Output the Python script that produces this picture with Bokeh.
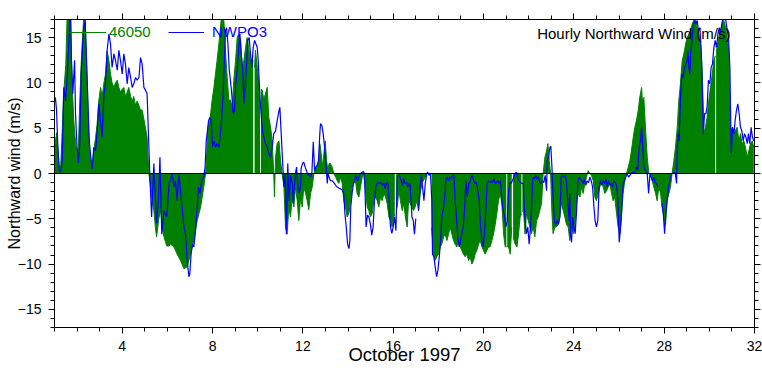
import math
from bokeh.plotting import figure
from bokeh.models import (Range1d, LinearAxis, FixedTicker, Span, Label,
                          Legend, LegendItem)
from bokeh.embed import file_html
from bokeh.resources import INLINE

NAN = float("nan")

# ---------------- data ----------------
# Buoy 46050: hourly northward wind (m/s), time in days of October 1997
days_46050 = [
    1.00, 1.10, 1.20, 1.27, 1.34, 1.41, 1.50, 1.56, 1.64, 1.71, 1.78, 1.85, 1.93, 2.00,
    2.06, 2.12, 2.18, 2.24, 2.30, 2.36, 2.42, 2.48, 2.54, 2.60, 2.67, 2.74, 2.82, 2.89,
    2.96, 3.04, 3.11, 3.19, 3.26, 3.33, 3.41, 3.48, 3.55, 3.63, 3.70, 3.78, 3.85, 3.92,
    4.00, 4.07, 4.14, 4.22, 4.29, 4.37, 4.44, 4.51, 4.59, 4.66, 4.74, 4.81, 4.88, 4.96,
    5.03, 5.10, 5.18, 5.30, 5.40, 5.47, 5.52, 5.62, 5.70, 5.77, 5.85, 5.97, 6.07, 6.14,
    6.29, 6.43, 6.58, 6.73, 6.88, 7.02, 7.17, 7.32, 7.47, 7.61, 7.69, 7.73, 7.79, 7.88,
    7.98, 8.06, 8.13, 8.20, 8.28, 8.35, 8.43, 8.50, 8.57, 8.65, 8.72, 8.79, 8.87, 8.94,
    9.02, 9.09, 9.16, 9.24, 9.31, 9.39, 9.46, 9.53, 9.61, 9.68, 9.80, 9.83, 9.86, 9.90,
    9.98, 10.05, 10.10, 10.12, 10.14, 10.20, 10.27, 10.34, 10.42, 10.49, 10.57, 10.64,
    10.71, 10.74, 10.79, 10.86, 10.94, 11.01, 11.08, 11.16, 11.23, 11.30, 11.38,
    11.45, 11.53, 11.60, 11.67, 11.75, 11.82, 11.90, 11.97, 12.04, 12.12, 12.19, 12.26,
    12.34, 12.41, 12.49, 12.56, 12.63, 12.71, 12.75, 12.81, 12.87, 12.93, 12.99, 13.05,
    13.11, 13.16, 13.22, 13.30, 13.37, 13.45, 13.52, 13.59, 13.67, 13.74, 13.81, 13.89,
    13.96, 14.04, 14.11, 14.18, 14.26, 14.33, 14.40, 14.48, 14.55, 14.63, 14.70, 14.77,
    14.85, 14.92, 14.99, 15.07, 15.14, 15.22, 15.29, 15.36, 15.44, 15.51, 15.59, 15.66,
    15.73, 15.81, 15.88, 15.95, 16.03, 16.07, 16.10, 16.13, 16.18, 16.25, 16.32, 16.40,
    16.47, 16.54, 16.62,
    16.68, 16.75, 16.83, 16.90, 16.97, 17.05, 17.12, 17.20, 17.27, 17.34, 17.42, 17.49,
    17.56, 17.66, 17.68, 17.70, 17.79, 17.86, 17.93, 18.01, 18.08, 18.15, 18.23, 18.30,
    18.38, 18.45, 18.52, 18.60, 18.67, 18.74, 18.82, 18.89, 18.97, 19.04, 19.11, 19.19,
    19.26, 19.34, 19.41, 19.48, 19.56, 19.63, 19.70, 19.78, 19.85, 19.93, 20.00, 20.07,
    20.15, 20.22, 20.29, 20.37, 20.44, 20.52, 20.59, 20.66, 20.74, 20.81, 20.89, 20.96,
    21.01, 21.03, 21.05, 21.11, 21.18, 21.25, 21.28, 21.31, 21.40, 21.48, 21.55, 21.62,
    21.68, 21.70, 21.72, 21.77, 21.84,
    21.90, 21.98, 22.05, 22.12, 22.20, 22.27, 22.35, 22.42, 22.49, 22.57, 22.64, 22.67,
    22.72, 22.79, 22.85, 22.91, 22.97, 23.03, 23.08, 23.16, 23.23, 23.31, 23.38, 23.45,
    23.53, 23.60, 23.67, 23.75, 23.82, 23.90, 23.97, 24.04, 24.12, 24.19, 24.27, 24.34,
    24.41, 24.49, 24.56, 24.63, 24.71, 24.78, 24.86, 24.93, 25.00, 25.08, 25.15, 25.22,
    25.30, 25.37, 25.45, 25.52, 25.59, 25.67, 25.74, 25.81, 25.89, 25.96, 26.04, 26.11,
    26.18, 26.26, 26.33, 26.41, 26.48, 26.55, 26.63, 26.70, 26.77, 26.85, 26.92, 27.00,
    27.03, 27.10, 27.17, 27.25, 27.32, 27.40, 27.47, 27.54, 27.62, 27.69, 27.76, 27.84,
    27.91, 27.99, 28.06, 28.13, 28.21, 28.28, 28.35, 28.43, 28.50, 28.58, 28.65, 28.72,
    28.80, 28.87, 28.95, 29.02, 29.09, 29.17, 29.24, 29.31, 29.39, 29.46, 29.54, 29.61,
    29.68, 29.76, 29.83, 29.90, 29.98, 30.05, 30.13, 30.20, 30.26, 30.28, 30.30, 30.35,
    30.42, 30.49, 30.57, 30.64, 30.72, 30.79, 30.86, 30.94, 31.01, 31.09, 31.16, 31.23,
    31.31, 31.38, 31.45, 31.53, 31.60, 31.68, 31.75, 31.82, 31.90, 31.97,
]
north_46050 = [
    3.0, 4.5, 1.0, 0.5, 4.5, 9.0, 12.0, 17.5, 18.5, 17.0, 10.0, 6.0, 3.5, 2.0,
    3.0, 8.0, 12.0, 15.0, 17.5, 17.0, 12.0, 7.0, 3.0, 1.5, 1.0, 2.5, 4.0, 5.5,
    8.0, 9.5, 8.5, 10.0, 11.0, 13.5, 12.5, 11.0, 10.0, 9.5, 10.0, 10.3, 9.5, 9.0,
    9.3, 9.5, 8.5, 9.0, 9.5, 8.5, 8.0, 8.5, 7.5, 8.0, 7.5, 7.0, 7.0, 6.0,
    5.0, 4.0, 0.0, -2.5, -4.1, -6.0, -7.0, -5.0, -4.0, -6.0, -7.0, -8.0, -8.0, -7.8,
    -8.1, -8.9, -9.6, -10.5, -10.3, -8.9, -7.4, -5.2, -3.7, -1.5, 0.0, 1.4, 5.1, 5.8,
    8.1, 9.5, 11.0, 12.5, 14.3, 16.1, 18.3, 16.9, 13.6, 10.6, 8.1, 8.1, 7.3, 10.3,
    12.5, 15.0, 15.4, 14.7, 11.7, 12.5, 13.9, 15.0, 13.6, 12.5, 12.5, NAN, 11.7, 13.6,
    11.7, 9.9, 9.6, NAN, 9.3, 9.2, 8.1, 8.8, 9.5, 6.2, 5.1, 3.6,
    0.0, -2.6, 1.8, 3.3, 3.6, 1.4, 0.0, -1.5, -5.9, -6.7, -3.7,
    -4.8, -2.6, -3.7, -1.5, -3.0, -5.2, -2.6, -3.7, -1.5, -2.2, -3.0, -4.0,
    -2.2, -1.5, 0.0, 0.7, 0.7, 1.4, 3.3, 2.2, 0.7, 2.2, 3.6, 1.4,
    0.3, 1.1, 1.1, 0.7, 0.0, -0.4, -0.8, -1.1, -0.4, -1.1, -3.0, -3.7,
    -4.8, -4.4, -3.0, -1.5, -1.1, -0.8, -2.2, -2.6, -1.5, -0.4, 0.0, -1.8,
    -3.7, -4.1, -4.8, -4.4, -3.0, -2.6, -3.0, -3.7, -2.6, -3.0, -2.2, -2.6,
    -3.3, -4.8, -5.2, -5.9, -4.8, -4.5, NAN, -4.0, -3.7, -1.8, -3.0, -4.1,
    -3.3, -4.8, -5.9,
    -3.0, -3.3, -3.7, -4.1, -3.7, -3.0, -4.1, -2.2, -1.1, -0.8, -0.4, 0.0,
    0.0, -0.1, NAN, -6.0, -8.9, -9.6, -9.2, -8.9, -8.1, -7.8, -7.0, -6.7,
    -7.4, -6.7, -5.9, -6.7, -7.4, -7.8, -8.1, -7.4, -8.1, -8.5, -8.9, -9.2,
    -8.9, -9.6, -9.2, -10.0, -9.6, -8.9, -8.5, -7.8, -7.4, -8.1, -8.5, -8.9,
    -8.5, -8.1, -8.1, -7.4, -6.7, -5.6, -4.4, -3.0, -2.2, -3.3, -6.7, -8.1,
    -8.1, NAN, -8.1, -8.1, -8.9, -5.9, NAN, -7.0, -7.8, -8.1, -6.7, -4.8,
    -4.5, NAN, -4.2, -4.1, -6.7,
    -4.4, -5.2, -5.9, -6.65, -5.9, -7.0, -5.2, -4.8, -4.1, -3.3, 0.0, 0.7,
    1.8, 2.5, 3.3, 1.4, 0.0, -4.4, -6.65, -5.9, -5.9, -5.6, -4.8, -3.3,
    -4.1, -4.8, -5.6, -5.9, -7.4, -5.9, -6.65, -5.9, -3.3, -2.2, -2.6, -1.5,
    -2.2, -1.1, -0.4, 0.3, 0.0, -0.2, -0.8, -2.6, -3.0, -2.2, -1.5, -0.8,
    -1.5, -2.2, -1.9, -1.5, -1.1, -2.2, -3.0, -2.6, -4.4, -5.9, -6.65, -4.8,
    -2.2, -0.7, 0.0, 0.7, 1.4, 2.5, 4.0, 5.1, 5.8, 6.95, 8.4, 9.5,
    8.1, 8.4, 5.1, 1.8, 0.0, 0.0, -0.8, -1.5, -2.2, -3.0, -1.5, -2.2,
    -3.7, -4.8, -5.6, -3.0, -2.2, -1.5, 0.0, 1.4, 2.9, 5.1, 8.1, 9.9,
    12.5, 13.2, 14.3, 15.0, 15.4, 15.8, 16.5, 16.9, 16.9, 16.1, 15.4, 14.3,
    11.7, 4.4, 5.1, 6.2, 8.1, 9.5, 11.0, 12.5, 13.0, NAN, 13.5, 13.9,
    15.0, 15.8, 16.5, 16.9, 16.1, 15.0, 13.6, 4.4, 5.1, 4.4, 4.8, 5.1,
    3.6, 4.4, 3.3, 3.6, 2.9, 1.8, 2.5, 3.3, 3.6, 2.9,
]

# Station NWPO3: hourly northward wind (m/s)
days_nwpo3 = [
    1.00, 1.04, 1.09, 1.15, 1.21, 1.27, 1.34, 1.41, 1.49, 1.56, 1.64, 1.71, 1.75, 1.81,
    1.89, 1.93, 2.00, 2.06, 2.12, 2.18, 2.24, 2.30, 2.36, 2.42, 2.48, 2.54, 2.59, 2.67,
    2.74, 2.82, 2.89, 2.96, 3.04, 3.11, 3.19, 3.26, 3.33, 3.41, 3.48, 3.55, 3.63, 3.70,
    3.78, 3.85, 3.92, 4.00, 4.07, 4.14, 4.22, 4.29, 4.37, 4.44, 4.51, 4.59, 4.66, 4.74,
    4.81, 4.88, 4.96, 5.03, 5.10, 5.16, 5.22, 5.30, 5.40, 5.52, 5.60, 5.67, 5.75, 5.85,
    5.97, 6.08, 6.14, 6.21, 6.29, 6.36, 6.43, 6.51, 6.58, 6.65, 6.73, 6.80, 6.88, 6.95,
    6.99, 7.05, 7.11, 7.17, 7.23, 7.29, 7.32, 7.38, 7.44, 7.50, 7.55, 7.61, 7.67, 7.72,
    7.76, 7.82, 7.88, 7.94, 8.00, 8.06, 8.13, 8.20, 8.28, 8.35, 8.41, 8.47, 8.53, 8.57,
    8.62, 8.68, 8.74, 8.79, 8.85, 8.91, 8.97, 9.03, 9.09, 9.15, 9.21, 9.27, 9.33, 9.39,
    9.44, 9.50, 9.56, 9.62, 9.68, 9.74, 9.80, 9.86, 9.92, 9.98, 10.03, 10.09, 10.15,
    10.21, 10.27, 10.34, 10.42, 10.49, 10.57, 10.64, 10.71, 10.79, 10.86, 10.94, 10.98,
    11.04, 11.10, 11.16, 11.22, 11.27, 11.33, 11.39,
    11.45, 11.53, 11.57, 11.63, 11.69, 11.72, 11.78, 11.84, 11.90, 11.92, 11.98, 12.04,
    12.10, 12.16, 12.22, 12.28, 12.34, 12.40, 12.46, 12.52, 12.57, 12.63, 12.69, 12.75,
    12.78, 12.84, 12.90, 12.96, 13.02, 13.08, 13.11, 13.16, 13.22, 13.30, 13.37, 13.45,
    13.52, 13.59, 13.67, 13.74, 13.81, 13.86, 13.92, 13.98, 14.04, 14.08, 14.12, 14.18,
    14.24, 14.30, 14.36, 14.42, 14.48, 14.55, 14.63, 14.70, 14.74, 14.80, 14.86, 14.92,
    14.99, 15.05, 15.11, 15.17, 15.23, 15.29, 15.35, 15.41, 15.47, 15.53, 15.59, 15.64,
    15.70, 15.76, 15.82, 15.88, 15.94, 16.00, 16.06, 16.12, 16.18, 16.23, 16.29, 16.35,
    16.41, 16.47, 16.53, 16.59, 16.65,
    16.71, 16.75, 16.83, 16.89, 16.94, 17.00, 17.06, 17.12, 17.20, 17.24, 17.30, 17.36,
    17.42, 17.49, 17.53, 17.59, 17.65, 17.71, 17.74, 17.80, 17.86, 17.92, 17.98, 18.04,
    18.10, 18.15, 18.21, 18.27, 18.33, 18.39, 18.45, 18.51, 18.57, 18.63, 18.69, 18.74,
    18.80, 18.86, 18.92, 18.98, 19.04, 19.10, 19.16, 19.22, 19.28, 19.34, 19.39, 19.45,
    19.51, 19.57, 19.63, 19.69, 19.75, 19.81, 19.87, 19.93, 19.98, 20.04, 20.10, 20.16,
    20.22, 20.28, 20.34, 20.40, 20.46, 20.52, 20.58, 20.63, 20.69, 20.75, 20.81, 20.87,
    20.93, 20.99, 21.05, 21.11, 21.17, 21.22, 21.28, 21.34, 21.40, 21.46, 21.52, 21.58,
    21.64, 21.70, 21.76, 21.81, 21.87,
    21.90, 21.96, 22.02, 22.08, 22.14, 22.17, 22.20, 22.26, 22.32, 22.38, 22.43, 22.49,
    22.55, 22.61, 22.67, 22.73, 22.79, 22.82, 22.88, 22.94, 22.98, 23.03, 23.08, 23.14,
    23.20, 23.26, 23.32, 23.38, 23.44, 23.50, 23.56, 23.62, 23.67, 23.73, 23.79, 23.82,
    23.85, 23.90, 23.94, 24.00, 24.06, 24.12, 24.18, 24.24, 24.29, 24.35, 24.41, 24.47,
    24.53, 24.59, 24.65, 24.71, 24.77, 24.83, 24.89, 24.94, 25.00, 25.06, 25.12, 25.18,
    25.24, 25.30, 25.36, 25.42, 25.48, 25.53, 25.59, 25.65, 25.71, 25.77, 25.83, 25.89,
    25.95, 26.01, 26.07, 26.12, 26.18, 26.24, 26.30, 26.36, 26.42, 26.48, 26.54, 26.60,
    26.66, 26.72, 26.77, 26.83, 26.89, 26.95, 27.00,
    27.10, 27.17, 27.25, 27.31, 27.37, 27.42, 27.48, 27.54, 27.60, 27.66, 27.72, 27.81,
    27.90, 27.96, 28.02, 28.07, 28.13, 28.19, 28.25, 28.31, 28.37, 28.43, 28.49, 28.55,
    28.58, 28.62, 28.66, 28.72, 28.78, 28.84, 28.90, 28.96, 29.02, 29.05, 29.09, 29.14,
    29.17, 29.23, 29.28, 29.34, 29.40, 29.46, 29.52, 29.58, 29.64, 29.70, 29.73, 29.79,
    29.85, 29.90, 29.96, 30.02, 30.08, 30.14, 30.20, 30.26, 30.32, 30.38, 30.44, 30.49,
    30.55, 30.61, 30.67, 30.73, 30.79, 30.85, 30.91, 30.97, 31.03, 31.09, 31.14, 31.20,
    31.26, 31.32, 31.38, 31.44, 31.50, 31.56, 31.62, 31.68, 31.73, 31.79, 31.85, 31.91,
    31.97,
]
north_nwpo3 = [
    8.0, 8.4, 7.0, 2.9, 0.3, 0.2, 1.4, 9.5, 8.0, 10.6, 14.7, 18.3, 12.5, 8.8,
    12.5, 6.6, 2.9, 1.2, 3.3, 11.0, 13.9, 16.1, 16.9, 12.5, 8.0, 3.6, 2.2, 0.5,
    2.9, 2.5, 4.7, 7.7, 5.8, 4.0, 8.8, 9.9, 13.6, 15.4, 14.3, 11.7, 13.2, 12.5,
    11.4, 13.6, 12.5, 11.0, 13.2, 12.1, 9.9, 11.7, 10.6, 9.5, 9.9, 10.6, 10.3, 10.6,
    12.8, 12.1, 9.5, 9.2, 8.8, 4.4, 0.0, -4.8, 1.1, -5.5, -3.0, 1.8, -6.7, -4.1,
    -4.8, -1.0, -0.8, 0.0, -1.5, -0.8, -3.0, 0.0, -1.9, -3.7, -5.9, -6.7, -9.6, -11.4,
    -11.1, -8.9, -7.8, -8.1, -6.7, -4.8, -3.7, -1.5, -2.2, -1.0, -0.6, -0.4, 0.7, 3.6,
    4.4, 5.8, 6.2, 5.8, 2.9, 3.6, 2.9, 3.3, 2.9, 4.4, 6.2, 8.8, 12.8, 15.8,
    16.1, 14.3, 11.4, 10.3, 8.8, 6.6, 6.9, 9.9, 11.4, 13.6, 15.4, 13.2, 11.7, 7.7,
    9.5, 11.7, 14.7, 15.0, 13.2, 11.7, 13.9, 14.7, 14.3, 13.9, 12.1, 8.8, 6.6,
    4.7, 4.0, 3.3, 2.9, 2.2, 1.8, 2.9, 4.4, 4.7, 5.8, 6.9, 7.3,
    4.4, 1.4, -1.5, 0.0, -6.7, 1.1, -3.0,
    -0.2, -1.1, -3.3, -1.1, 0.3, 0.7, -1.5, -2.2, -1.1, 0.5, 1.1, 1.25,
    0.7, 0.3, -0.2, 0.0, -0.4, 0.15, 3.5, 0.3, 0.7, 0.9, 1.4, 4.4,
    5.5, 5.3, 4.4, 2.9, 1.1, -1.1, 0.0, -0.4, -0.8, -0.8, -1.0, -1.3,
    -1.5, -1.6, -1.7, -1.8, -2.2, -4.4, -5.9, -7.8, -8.3, -7.4, -3.7, -2.2,
    -1.1, -0.6, -0.2, -0.8, -0.4, 0.0, 0.15, 0.2, -1.1, -5.9, -4.6, -4.8,
    -5.6, -6.8, -5.9, -3.0, -1.5, -1.1, -1.0, -1.1, -1.0, -1.3, -1.1, -1.7,
    -1.0, -1.1, -3.0, -5.9, -6.6, -5.9, -4.8, -6.3, -0.4, -0.2, -0.3, -0.8,
    -1.3, -0.6, -1.1, -1.0, -1.5,
    -1.1, -1.3, -4.8, -5.2, -6.7, -5.0, NAN, -4.1, -1.1, -0.2, -1.5, -3.0,
    -1.1, 0.0, 0.15, -0.2, 0.0, -3.0, -8.9, -9.2, -10.3, -11.4, -10.7, -9.2,
    -7.4, -4.8, -4.1, -3.0, -0.8, -0.4, -0.8, -0.4, -0.6, -0.2, -0.2, -3.0,
    -4.8, -7.0, -8.1, -7.4, -6.7, -5.9, -4.1, -0.8, -2.6, -1.1, -1.0, -0.4,
    -0.2, -0.8, -1.1, -1.0, -1.9, -3.0, -5.9, -7.4, -8.1, -6.7, -4.1, -1.1,
    -0.8, -1.0, -0.8, -1.0, -0.6, -1.1, -1.0, -0.8, -1.1, -0.8, -3.0, -4.1,
    -4.8, -5.9, -5.2, -1.9, -1.0, -1.1, -0.8, -0.4, 0.0, 0.15, -0.6, -0.8,
    -1.0, -1.1, -1.1, -4.1, -5.9,
    -6.65, -5.9, -7.8, -5.9, -3.0, -0.8, -0.4, -0.6, -0.2, -0.6, -0.4, -1.0,
    -1.1, -0.8, -1.0, -0.2, -1.9, 1.4, 1.8, 2.9, 3.0, 0.7, -2.6, -5.2,
    -5.7, -5.2, -5.6, -4.8, -0.4, -0.2, -0.4, -0.2, -0.8, -3.0, -5.2, -2.2,
    -6.65, -7.6, -4.8, -5.9, -6.65, -4.1, -0.8, -0.4, -0.6, -0.8, -1.1, -0.6,
    -1.3, -0.8, -1.0, -0.4, -0.8, -1.5, -3.7, -5.2, -5.9, -5.2, -1.5, -0.8,
    -1.3, -0.8, -1.1, -0.6, -1.5, -0.8, -1.3, -1.1, -1.5, -0.8, -1.0, -1.3,
    -3.0, -7.6, -5.9, -3.7, -1.1, -0.8, -0.4, 0.0, -0.4, -0.2, 0.0, 0.15,
    0.0, 0.3, 0.7, 0.3, 2.9, 3.6, 5.1,
    0.7, 0.3, 0.0, -2.2, 0.0, -0.4, -0.8, -0.4, -1.0, -1.1, -1.5, NAN,
    -3.3, -4.4, -6.65, -4.4, -3.0, -1.5, -0.8, 0.0, 0.0, 0.15, 0.0, -1.1,
    2.9, 4.4, 3.6, 8.1, 11.0, 10.6, 11.7, 12.1, 12.5, 13.6, 11.7, 11.0,
    13.2, 14.7, 16.1, 16.9, 16.5, 16.9, 15.8, 16.1, 13.6, 8.1, 4.4, 6.6,
    6.6, 7.3, 10.3, 9.9, 11.7, 12.1, 13.9, 14.7, 13.9, 15.4, 16.1, 15.4,
    16.5, 17.2, 17.6, 16.9, 15.8, 15.0, 11.7, 2.2, 5.1, 4.4, 5.8, 6.95,
    7.7, 6.6, 5.1, 4.7, 3.6, 4.4, 4.0, 3.3, 4.4, 3.3, 5.1, 4.0,
    3.6,
]

x_major_ticks = [4, 8, 12, 16, 20, 24, 28, 32]
x_minor_ticks = list(range(1, 33))
y_major_ticks = [-15, -10, -5, 0, 5, 10, 15]
y_minor_ticks = list(range(-17, 18))

series_names = ["46050", "NWPO3"]
title_text = "Hourly Northward Wind (m/s)"
x_title = "October 1997"
y_title = "Northward wind (m/s)"

# ---------------- styling ----------------
FONT = "Liberation Sans"
GREEN = "#008000"
BLUE = "#0000ff"

W, H = 762, 368
BL, BR, BT, BB = 54, 8, 19, 41
FW, FH = W - BL - BR, H - BT - BB

p = figure(width=W, height=H, output_backend="svg", toolbar_location=None,
           x_range=Range1d(1, 32), y_range=Range1d(-17, 17),
           min_border_left=BL, min_border_right=BR,
           min_border_top=BT, min_border_bottom=BB,
           background_fill_color="white", border_fill_color="white")
p.xgrid.visible = False
p.ygrid.visible = False
p.outline_line_color = None

xt = FixedTicker(ticks=x_major_ticks, minor_ticks=x_minor_ticks)
yt = FixedTicker(ticks=y_major_ticks, minor_ticks=y_minor_ticks)


def style_axis(ax, labels=True, standoff=6):
    ax.axis_line_color = "black"
    ax.axis_line_width = 1
    ax.major_tick_line_color = "black"
    ax.minor_tick_line_color = "black"
    ax.major_tick_in = 0
    ax.major_tick_out = 6
    ax.minor_tick_in = 0
    ax.minor_tick_out = 4
    ax.major_label_text_font = FONT
    if labels:
        ax.major_label_text_color = "black"
        ax.major_label_text_font_size = "14px"
        ax.major_label_standoff = standoff
    else:
        ax.major_label_text_color = None
        ax.major_label_text_font_size = "1px"
        ax.major_label_standoff = 0
    ax.axis_label_text_font = FONT
    ax.axis_label_text_font_style = "normal"
    ax.axis_label_text_color = "black"


p.xaxis.ticker = xt
p.yaxis.ticker = yt
xa = p.xaxis[0]
ya = p.yaxis[0]
style_axis(xa, True, 7)
style_axis(ya, True, 7)
xa.axis_label = x_title
xa.axis_label_text_font_size = "18.5px"
xa.axis_label_standoff = -10
ya.axis_label = y_title
ya.axis_label_text_font_size = "16px"
ya.axis_label_standoff = -8

top_ax = LinearAxis(ticker=xt)
style_axis(top_ax, False)
p.add_layout(top_ax, "above")
right_ax = LinearAxis(ticker=yt)
style_axis(right_ax, False)
p.add_layout(right_ax, "right")

# green filled area, split at missing values
seg_x, seg_y = [], []
segments = []
for d, v in zip(days_46050, north_46050):
    if math.isnan(v):
        if seg_x:
            segments.append((seg_x, seg_y))
        seg_x, seg_y = [], []
    else:
        seg_x.append(d)
        seg_y.append(v)
if seg_x:
    segments.append((seg_x, seg_y))
for sx, sy in segments:
    p.varea(x=sx, y1=0, y2=sy, fill_color=GREEN, fill_alpha=1.0)
green_edge = p.line(days_46050, north_46050, line_color=GREEN, line_width=1)

# blue line
blue = p.line(days_nwpo3, north_nwpo3, line_color=BLUE, line_width=1.2)

# zero reference line
p.add_layout(Span(location=0, dimension="width", line_color="black", line_width=1))

leg_y = FH - 21
leg1 = Legend(items=[LegendItem(label=series_names[0], renderers=[green_edge])],
              location=(14, leg_y), orientation="horizontal",
              label_text_color=GREEN, label_text_font=FONT, label_text_font_size="15px",
              glyph_width=38, glyph_height=16, label_height=16, label_standoff=3,
              padding=0, margin=0, spacing=0, border_line_color=None,
              background_fill_alpha=0)
leg2 = Legend(items=[LegendItem(label=series_names[1], renderers=[blue])],
              location=(114, leg_y), orientation="horizontal",
              label_text_color=BLUE, label_text_font=FONT, label_text_font_size="15px",
              glyph_width=36, glyph_height=16, label_height=16, label_standoff=8,
              padding=0, margin=0, spacing=0, border_line_color=None,
              background_fill_alpha=0)
p.add_layout(leg1)
p.add_layout(leg2)

# title inside the frame, top right
p.add_layout(Label(x=676, y=FH - 14, x_units="screen", y_units="screen",
                   text=title_text, text_align="right", text_baseline="alphabetic",
                   text_font=FONT, text_font_size="15px", text_color="black"))

open("out.html", "w").write(file_html(p, INLINE))
